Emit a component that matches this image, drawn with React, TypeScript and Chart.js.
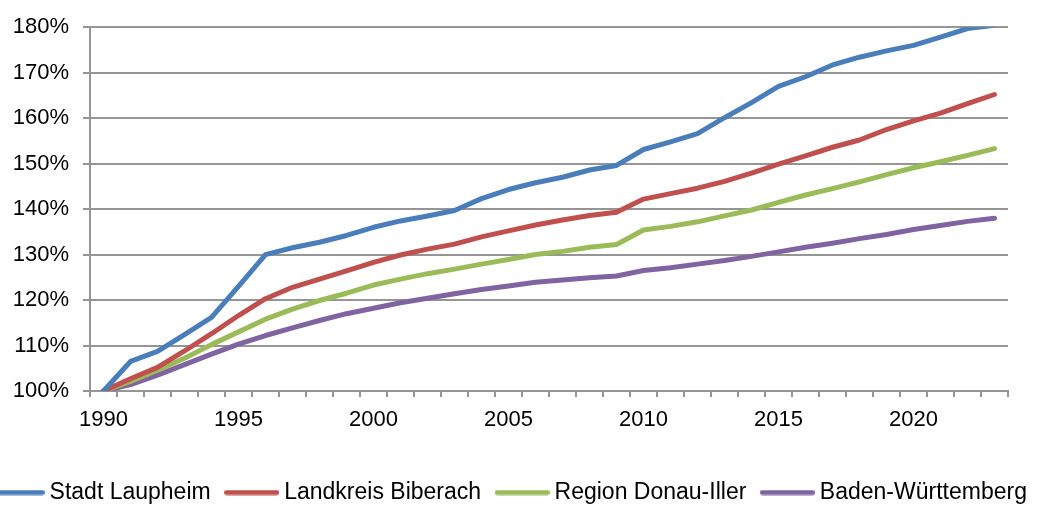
import React, { useEffect, useRef } from "react";
import { Chart, registerables } from "chart.js";

Chart.register(...registerables);

// Einwohnerentwicklung, 1990 = 100 %
const years = [
  "1990", "1991", "1992", "1993", "1994", "1995", "1996", "1997", "1998", "1999",
  "2000", "2001", "2002", "2003", "2004", "2005", "2006", "2007", "2008", "2009",
  "2010", "2011", "2012", "2013", "2014", "2015", "2016", "2017", "2018", "2019",
  "2020", "2021", "2022", "2023",
];

const stadtLaupheim = [
  100, 106.5, 108.7, 112.4, 116.2, 123.0, 130.0, 131.5, 132.7, 134.2,
  136.0, 137.4, 138.5, 139.7, 142.3, 144.3, 145.8, 147.0, 148.6, 149.6,
  153.1, 154.8, 156.6, 160.1, 163.4, 167.0, 169.1, 171.7, 173.4, 174.8,
  176.0, 177.8, 179.7, 180.4,
];

const landkreisBiberach = [
  100, 102.7, 105.2, 108.8, 112.6, 116.6, 120.3, 122.8, 124.6, 126.4,
  128.3, 129.9, 131.2, 132.3, 133.9, 135.2, 136.5, 137.6, 138.6, 139.3,
  142.2, 143.4, 144.6, 146.1, 147.9, 149.9, 151.7, 153.6, 155.2, 157.5,
  159.4, 161.1, 163.2, 165.2,
];

const regionDonauIller = [
  100, 102.1, 104.6, 107.2, 110.2, 113.0, 115.8, 118.0, 119.9, 121.5,
  123.3, 124.6, 125.8, 126.8, 127.9, 128.9, 130.0, 130.7, 131.6, 132.2,
  135.4, 136.2, 137.2, 138.5, 139.8, 141.5, 143.1, 144.5, 146.0, 147.6,
  149.1, 150.4, 151.8, 153.3,
];

const badenWuerttemberg = [
  100, 101.4, 103.5, 105.8, 108.1, 110.3, 112.2, 113.9, 115.5, 117.0,
  118.2, 119.4, 120.4, 121.4, 122.3, 123.1, 123.9, 124.4, 124.9, 125.3,
  126.5, 127.1, 127.9, 128.7, 129.6, 130.6, 131.6, 132.5, 133.5, 134.4,
  135.5, 136.4, 137.3, 138.0,
];

const seriesNames = [
  "Stadt Laupheim",
  "Landkreis Biberach",
  "Region Donau-Iller",
  "Baden-Württemberg",
];
const seriesColors = ["#4A7EBB", "#C0504D", "#9BBB59", "#8064A2"];

const yMin = 100;
const yMax = 180;
const yStep = 10;

const GRID = "#959595";
const FONT = "'Liberation Sans', Arial, sans-serif";
const LINE_WIDTH = 5;

// Legend sample: a short thick line with round ends
function legendLine(color: string): HTMLCanvasElement {
  const c = document.createElement("canvas");
  c.width = 55;
  c.height = 6;
  const ctx = c.getContext("2d");
  if (ctx) {
    ctx.strokeStyle = color;
    ctx.lineWidth = LINE_WIDTH;
    ctx.lineCap = "round";
    ctx.beginPath();
    ctx.moveTo(LINE_WIDTH / 2, 3);
    ctx.lineTo(c.width - LINE_WIDTH / 2, 3);
    ctx.stroke();
  }
  return c;
}

export default function App() {
  const canvasRef = useRef<HTMLCanvasElement | null>(null);

  useEffect(() => {
    const canvas = canvasRef.current;
    if (!canvas) return;
    const values = [stadtLaupheim, landkreisBiberach, regionDonauIller, badenWuerttemberg];

    const chart = new Chart(canvas, {
      type: "line",
      data: {
        labels: years,
        datasets: values.map((data, i) => ({
          label: seriesNames[i],
          data,
          borderColor: seriesColors[i],
          backgroundColor: seriesColors[i],
          borderWidth: LINE_WIDTH,
          borderCapStyle: "round" as const,
          borderJoinStyle: "round" as const,
          pointStyle: legendLine(seriesColors[i]) as any,
          pointRadius: 0,
          pointHoverRadius: 0,
          tension: 0,
          fill: false,
        })),
      },
      options: {
        responsive: false,
        animation: false,
        events: [],
        layout: { padding: { left: -34, right: 0, top: 24, bottom: -9 } },
        scales: {
          x: {
            type: "category",
            offset: true,
            afterFit: (s: any) => {
              s.height = 70;
            },
            grid: {
              offset: true,
              drawOnChartArea: false,
              drawTicks: true,
              tickLength: 6,
              color: GRID,
              lineWidth: 2,
            },
            border: { display: true, color: GRID, width: 2 },
            ticks: {
              autoSkip: false,
              maxRotation: 0,
              minRotation: 0,
              padding: 10,
              color: "#000",
              font: { family: FONT, size: 22 },
              callback: function (this: any, _v: any, index: number) {
                const y = years[index];
                return Number(y) % 5 === 0 ? y : "";
              },
            },
          },
          y: {
            type: "linear",
            position: "left",
            min: yMin,
            max: yMax,
            afterFit: (s: any) => {
              s.width = 124;
            },
            grid: {
              color: GRID,
              lineWidth: 2,
              drawTicks: true,
              tickLength: 7,
            },
            border: { display: true, color: GRID, width: 2 },
            ticks: {
              stepSize: yStep,
              padding: 14,
              color: "#000",
              font: { family: FONT, size: 22 },
              callback: (v: any) => `${v}%`,
            },
          },
          y2: {
            type: "linear",
            position: "right",
            display: true,
            afterFit: (s: any) => {
              s.width = 49;
            },
            grid: { display: false, drawTicks: false },
            border: { display: false },
            ticks: { display: false },
          },
        },
        plugins: {
          tooltip: { enabled: false },
          title: { display: false },
          legend: {
            display: true,
            position: "bottom",
            labels: {
              usePointStyle: true,
              pointStyleWidth: 42,
              padding: 20,
              color: "#000",
              font: { family: FONT, size: 23 },
            },
          },
        },
      },
    });

    return () => chart.destroy();
  }, []);

  return (
    <div
      style={{
        position: "fixed",
        left: 0,
        top: 0,
        width: 1057,
        height: 505,
        background: "#fff",
      }}
    >
      <canvas ref={canvasRef} width={1057} height={505} style={{ display: "block" }} />
    </div>
  );
}
